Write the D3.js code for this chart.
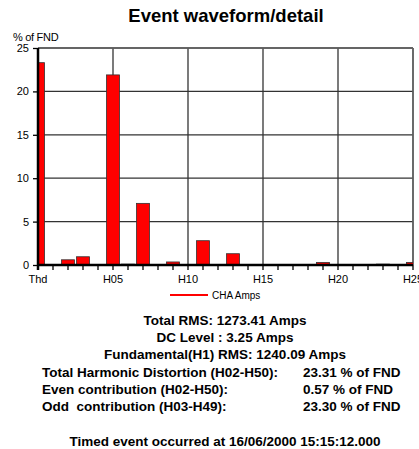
<!DOCTYPE html>
<html>
<head>
<meta charset="utf-8">
<script src="https://cdn.jsdelivr.net/npm/d3@7"></script>
<style>
  body { margin: 0; background: #fff; }
  svg { display: block; font-family: Arial, "Liberation Sans", sans-serif; }
</style>
</head>
<body>
<svg id="chart" width="419" height="449"></svg>
<script>
// harmonic categories (Thd + H01..H25)
var categories = ["Thd", "H01", "H02", "H03", "H04", "H05", "H06", "H07", "H08", "H09", "H10",
  "H11", "H12", "H13", "H14", "H15", "H16", "H17", "H18", "H19", "H20",
  "H21", "H22", "H23", "H24", "H25"];
// % of fundamental
var values = [23.31, 0, 0.6, 0.95, 0.05, 21.9, 0.1, 7.1, 0.05, 0.35, 0.05,
  2.8, 0.05, 1.3, 0.05, 0.03, 0.03, 0.05, 0.03, 0.3, 0.03,
  0.03, 0.03, 0.1, 0.03, 0.3];
var xTickLabels = ["Thd", "H05", "H10", "H15", "H20", "H25"];
var yTicks = [0, 5, 10, 15, 20, 25];
var summaryLines = ["Total RMS: 1273.41 Amps", "DC Level : 3.25 Amps", "Fundamental(H1) RMS: 1240.09 Amps"];
var tableLabels = ["Total Harmonic Distortion (H02-H50):", "Even contribution (H02-H50):", "Odd  contribution (H03-H49):"];
var tableValues = ["23.31 % of FND", "0.57 % of FND", "23.30 % of FND"];
var footer = "Timed event occurred at 16/06/2000 15:15:12.000";

var svg = d3.select("#chart");
var plotL = 38, plotR = 413, plotT = 48, plotB = 265;

var x = d3.scaleBand().domain(categories).range([plotL - 7.5, plotR + 7.5]).paddingInner(0.13).paddingOuter(0.065);
var y = d3.scaleLinear().domain([0, 25]).range([plotB, plotT]);
function cx(c) { return x(c) + x.bandwidth() / 2; }

// title
svg.append("text").attr("x", 226).attr("y", 22).attr("text-anchor", "middle")
  .style("font-size", "18.5px").style("font-weight", "bold").text("Event waveform/detail");
svg.append("text").attr("x", 13).attr("y", 41).style("font-size", "11px").style("letter-spacing", "-0.3px").text("% of FND");

// clip
svg.append("clipPath").attr("id", "plot").append("rect")
  .attr("x", plotL).attr("y", plotT).attr("width", plotR - plotL).attr("height", plotB - plotT);

// grid
var grid = svg.append("g").attr("stroke", "#333").attr("stroke-width", 1.3);
grid.selectAll(".hy").data(yTicks.slice(1)).enter().append("line")
  .attr("x1", plotL).attr("x2", plotR).attr("y1", function(d) { return y(d); }).attr("y2", function(d) { return y(d); });
grid.selectAll(".vx").data(xTickLabels.slice(1)).enter().append("line")
  .attr("x1", function(d) { return cx(d); }).attr("x2", function(d) { return cx(d); })
  .attr("y1", plotT).attr("y2", plotB);
svg.append("line").attr("x1", plotR).attr("x2", plotR).attr("y1", plotT).attr("y2", plotB)
  .attr("stroke", "#666").attr("stroke-width", 1.5);
svg.append("line").attr("x1", plotL).attr("x2", plotR).attr("y1", plotT).attr("y2", plotT)
  .attr("stroke", "#666").attr("stroke-width", 1.5);

// bars
svg.append("g").attr("clip-path", "url(#plot)")
  .selectAll("rect").data(values).enter().append("rect")
  .attr("x", function(d, i) { return x(categories[i]); })
  .attr("y", function(d) { return y(d); })
  .attr("width", x.bandwidth())
  .attr("height", function(d) { return plotB - y(d); })
  .attr("fill", "#ff0000").attr("stroke", "#333").attr("stroke-width", 0.8);

// axes
var xAxis = d3.axisBottom(x).tickSize(5).tickFormat(function(d) { return xTickLabels.indexOf(d) >= 0 ? d : ""; });
var gx = svg.append("g").attr("transform", "translate(0," + plotB + ")").call(xAxis);
gx.select(".domain").remove();
gx.selectAll(".tick line").attr("stroke", "#000").attr("stroke-width", 1.3);
gx.selectAll(".tick text").style("font-size", "11px").style("font-family", "Arial, 'Liberation Sans'").attr("dy", "0.9em");
svg.append("line").attr("x1", plotL).attr("x2", plotR).attr("y1", plotB).attr("y2", plotB)
  .attr("stroke", "#000").attr("stroke-width", 2.5);

var yAxis = d3.axisLeft(y).tickValues(yTicks).tickSize(5);
var gy = svg.append("g").attr("transform", "translate(" + plotL + ",0)").call(yAxis);
gy.select(".domain").remove();
gy.selectAll(".tick line").attr("stroke", "#000").attr("stroke-width", 1.3);
gy.selectAll(".tick text").style("font-size", "11px").style("font-family", "Arial, 'Liberation Sans'").attr("x", -9);
svg.append("line").attr("x1", plotL).attr("x2", plotL).attr("y1", plotT).attr("y2", plotB + 5)
  .attr("stroke", "#000").attr("stroke-width", 2.5);

// legend
svg.append("line").attr("x1", 170).attr("x2", 208).attr("y1", 295).attr("y2", 295)
  .attr("stroke", "#ff0000").attr("stroke-width", 2);
svg.append("text").attr("x", 212).attr("y", 299).style("font-size", "10px").text("CHA Amps");

// summary text
var info = svg.append("g").style("font-size", "13.5px").style("font-weight", "bold");
info.selectAll(".s").data(summaryLines).enter().append("text")
  .attr("x", 225).attr("y", function(d, i) { return 325 + i * 17; })
  .attr("text-anchor", "middle").text(function(d) { return d; });
info.selectAll(".l").data(tableLabels).enter().append("text")
  .attr("x", 42).attr("y", function(d, i) { return 376.5 + i * 17; })
  .style("white-space", "pre").attr("xml:space", "preserve").text(function(d) { return d; });
info.selectAll(".v").data(tableValues).enter().append("text")
  .attr("x", 303).attr("y", function(d, i) { return 376.5 + i * 17; })
  .text(function(d) { return d; });
info.append("text").attr("x", 225).attr("y", 446).attr("text-anchor", "middle").text(footer);
</script>
</body>
</html>
